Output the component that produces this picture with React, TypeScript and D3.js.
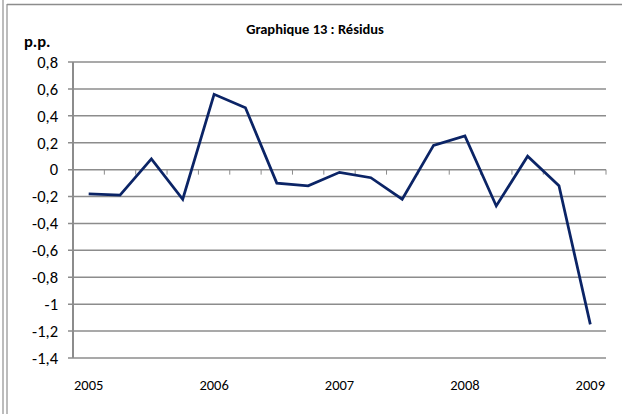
import React from "react";
import * as d3 from "d3";

// quarterly residuals, 2005Q1 .. 2009Q1
const quarters = [
    "2005T1", "2005T2", "2005T3", "2005T4",
    "2006T1", "2006T2", "2006T3", "2006T4",
    "2007T1", "2007T2", "2007T3", "2007T4",
    "2008T1", "2008T2", "2008T3", "2008T4",
    "2009T1",
];
const residus = [
    -0.18, -0.19, 0.08, -0.22,
    0.56, 0.46, -0.10, -0.12,
    -0.02, -0.06, -0.22, 0.18,
    0.25, -0.27, 0.10, -0.12,
    -1.15,
];
const yearLabels = ["2005", "2006", "2007", "2008", "2009"];
const yTicks = [0.8, 0.6, 0.4, 0.2, 0, -0.2, -0.4, -0.6, -0.8, -1, -1.2, -1.4];

const FONT = "Carlito, Calibri, Lato, sans-serif";

export default function App() {
    const width = 622;
    const height = 414;
    const plot = { left: 73, right: 606, top: 62, bottom: 358 };

    const x = d3
        .scaleBand<string>()
        .domain(quarters)
        .range([plot.left, plot.right])
        .padding(0);

    const y = d3
        .scaleLinear()
        .domain([-1.4, 0.8])
        .range([plot.bottom, plot.top]);

    const cx = (q: string) => (x(q) ?? 0) + x.bandwidth() / 2;

    const line = d3
        .line<number>()
        .x((_, i) => cx(quarters[i]))
        .y((d) => y(d));

    const fmt = (v: number) => String(Math.round(v * 10) / 10).replace(".", ",");

    const bounds = d3.range(quarters.length + 1).map((i) => plot.left + i * x.bandwidth());

    return (
        <svg
            width={width}
            height={height}
            style={{ position: "absolute", left: 0, top: 0, background: "#fff" }}
            fontFamily={FONT}
        >
            {/* frame */}
            <line x1={3} x2={3} y1={0} y2={height} stroke="#a6a6a6" strokeWidth={1.5} />
            <line x1={7} x2={7} y1={4} y2={height} stroke="#a6a6a6" strokeWidth={1.5} />
            <line x1={7} x2={width} y1={4.5} y2={4.5} stroke="#8c8c8c" strokeWidth={1.5} />

            <text x={315} y={34} textAnchor="middle" fontSize={14.5} fontWeight="bold" fill="#000">
                Graphique 13 : Résidus
            </text>
            <text x={24} y={47} fontSize={16.5} fontWeight="bold" fill="#000">
                p.p.
            </text>

            {/* gridlines */}
            {yTicks.map((t) => (
                <line
                    key={t}
                    x1={plot.left - 5}
                    x2={plot.right}
                    y1={y(t)}
                    y2={y(t)}
                    stroke="#8c8c8c"
                    strokeWidth={1.5}
                />
            ))}
            {yTicks.map((t) => (
                <text
                    key={"l" + t}
                    x={58}
                    y={y(t)}
                    dy="0.35em"
                    textAnchor="end"
                    fontSize={16.5}
                    fill="#000"
                >
                    {fmt(t)}
                </text>
            ))}
            <line x1={plot.left} x2={plot.left} y1={plot.top} y2={plot.bottom} stroke="#8c8c8c" strokeWidth={2} />

            {/* category ticks on zero line */}
            {bounds.map((b, i) => (
                <line key={"t" + i} x1={b} x2={b} y1={y(0)} y2={y(0) + 5} stroke="#8c8c8c" strokeWidth={1} />
            ))}

            {yearLabels.map((yr) => (
                <text key={yr} x={cx(yr + "T1")} y={390} textAnchor="middle" fontSize={14.5} fill="#000">
                    {yr}
                </text>
            ))}

            <path d={line(residus) ?? ""} fill="none" stroke="#0b2466" strokeWidth={2.75} strokeLinejoin="miter" />
        </svg>
    );
}
